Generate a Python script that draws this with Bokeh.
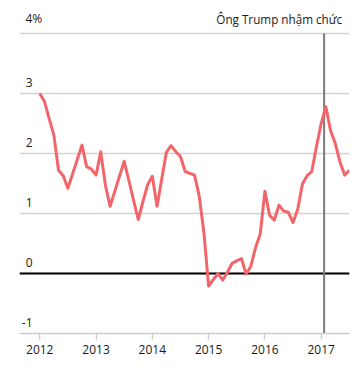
from bokeh.plotting import figure
from bokeh.models import Range1d, ColumnDataSource
from bokeh.core.properties import value
from bokeh.embed import file_html
from bokeh.resources import INLINE

# Monthly year-on-year inflation (%)
infl_2012 = [3.0, 2.87, 2.58, 2.31, 1.72, 1.63, 1.42, 1.66, 1.9, 2.14, 1.78, 1.74]
infl_2013 = [1.64, 2.03, 1.47, 1.12, 1.37, 1.62, 1.87, 1.55, 1.22, 0.9, 1.2, 1.48]
infl_2014 = [1.62, 1.12, 1.57, 2.02, 2.13, 2.03, 1.95, 1.7, 1.67, 1.64, 1.29, 0.68]
infl_2015 = [-0.21, -0.1, 0.0, -0.11, 0.02, 0.17, 0.21, 0.25, -0.01, 0.12, 0.43, 0.66]
infl_2016 = [1.37, 0.97, 0.89, 1.14, 1.04, 1.02, 0.85, 1.07, 1.49, 1.63, 1.7, 2.12]
infl_2017 = [2.5, 2.78, 2.38, 2.17, 1.86, 1.64, 1.72]
start_year = 2012

year_ticks = [2012, 2013, 2014, 2015, 2016, 2017]
year_labels = ["2012", "2013", "2014", "2015", "2016", "2017"]
y_ticks = [4, 3, 2, 1, 0, -1]
y_labels = ["4%", "3", "2", "1", "0", "-1"]
trump_date = 2017 + 19 / 365
trump_label = "Ông Trump nhậm chức"

values = infl_2012 + infl_2013 + infl_2014 + infl_2015 + infl_2016 + infl_2017
xs = [start_year + i / 12 for i in range(len(values))]
src = ColumnDataSource(dict(x=xs, y=values))

FONT = value("Open Sans")
TXT = "#1a1a1a"

x0, x1 = 2011.64, 2017.503
p = figure(width=355, height=364, x_range=Range1d(x0, x1), y_range=Range1d(-1, 4.5),
           output_backend="svg", toolbar_location=None,
           min_border_left=19, min_border_right=6, min_border_top=3, min_border_bottom=31)
p.outline_line_color = None
p.background_fill_color = "white"
p.border_fill_color = "white"

p.yaxis.visible = False
p.xgrid.visible = False
p.ygrid.ticker = y_ticks
p.ygrid.grid_line_color = "#d2d2d2"
p.ygrid.grid_line_width = 1.5

ax = p.xaxis[0]
ax.ticker = year_ticks
ax.major_label_overrides = {t: l for t, l in zip(year_ticks, year_labels)}
ax.axis_line_color = "#cccccc"
ax.axis_line_width = 1.5
ax.major_tick_line_color = "#cccccc"
ax.major_tick_line_width = 1.5
ax.major_tick_out = 6
ax.major_tick_in = 0
ax.minor_tick_line_color = None
ax.major_label_text_font = "Open Sans"
ax.major_label_text_font_size = "12px"
ax.major_label_text_color = TXT
ax.major_label_standoff = 5

# zero line
p.segment(x0=[x0], y0=[0], x1=[x1], y1=[0], line_color="black", line_width=2)
# inauguration line
p.segment(x0=[trump_date], y0=[-1], x1=[trump_date], y1=[y_ticks[0]],
          line_color="#7a7a7a", line_width=2)

p.line("x", "y", source=src, line_color="#f2666b", line_width=3, line_join="round")

# y labels: the top one carries the unit and is left-aligned
p.text(x=[x0], y=y_ticks[:1], text=y_labels[:1], x_offset=6, y_offset=-7,
       text_align="left", text_baseline="bottom", text_font=FONT,
       text_font_size="12px", text_color=TXT)
p.text(x=[x0] * (len(y_ticks) - 1), y=y_ticks[1:], text=y_labels[1:], x_offset=13, y_offset=-7,
       text_align="right", text_baseline="bottom", text_font=FONT,
       text_font_size="12px", text_color=TXT)
p.text(x=[trump_date], y=[y_ticks[0]], text=[trump_label], x_offset=18, y_offset=-7,
       text_align="right", text_baseline="bottom", text_font=FONT,
       text_font_size="11.7px", text_color=TXT)

open("out.html", "w").write(file_html(p, INLINE))
